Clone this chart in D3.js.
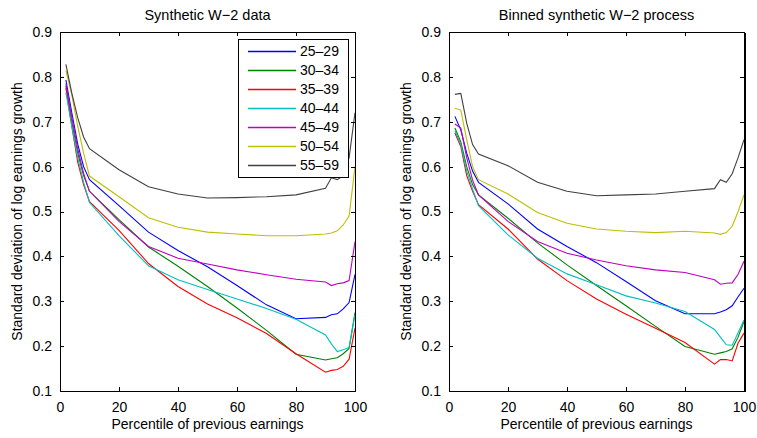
<!DOCTYPE html>
<meta charset="utf-8">
<style>
    body {
        margin: 0;
        background: #fff;
        font-family: "Liberation Sans", Arial, sans-serif;
    }
    .axis path, .axis line {
        fill: none;
        stroke: #000;
        shape-rendering: crispEdges;
    }
    .axis text {
        font-size: 14px;
        fill: #000;
    }
    .series {
        fill: none;
        stroke-width: 1.1px;
    }
</style>
<body>
<script src="https://d3js.org/d3.v7.min.js"></script>
<script>
    // percentiles where the curves are sampled
    const percentiles = [2, 4, 6, 8, 10, 20, 30, 40, 50, 60, 70, 80, 90, 92, 94, 96, 98, 100];

    const ageGroups = ["25–29", "30–34", "35–39", "40–44", "45–49", "50–54", "55–59"];
    const groupColors = ["#0000ff", "#008000", "#ff0000", "#00bfbf", "#bf00bf", "#bfbf00", "#404040"];

    // left panel: synthetic W-2 data
    const w2Data = [
        [0.793, 0.72, 0.65, 0.60, 0.571, 0.513, 0.454, 0.413, 0.377, 0.335, 0.292, 0.261, 0.264, 0.270, 0.272, 0.283, 0.297, 0.36],
        [0.78, 0.70, 0.63, 0.58, 0.545, 0.482, 0.421, 0.378, 0.333, 0.285, 0.235, 0.182, 0.169, 0.172, 0.174, 0.183, 0.195, 0.275],
        [0.775, 0.69, 0.61, 0.56, 0.522, 0.458, 0.384, 0.333, 0.294, 0.263, 0.228, 0.183, 0.142, 0.146, 0.148, 0.155, 0.171, 0.24],
        [0.765, 0.69, 0.62, 0.565, 0.52, 0.446, 0.379, 0.348, 0.326, 0.305, 0.284, 0.260, 0.225, 0.205, 0.188, 0.192, 0.197, 0.27],
        [0.785, 0.71, 0.64, 0.585, 0.545, 0.478, 0.422, 0.396, 0.383, 0.370, 0.359, 0.349, 0.343, 0.335, 0.339, 0.341, 0.346, 0.433],
        [0.814, 0.76, 0.69, 0.63, 0.579, 0.533, 0.486, 0.465, 0.454, 0.450, 0.446, 0.446, 0.450, 0.452, 0.457, 0.47, 0.49, 0.60],
        [0.828, 0.764, 0.709, 0.666, 0.640, 0.593, 0.555, 0.539, 0.530, 0.531, 0.533, 0.537, 0.552, 0.575, 0.571, 0.58, 0.62, 0.72]
    ];

    // right panel: binned synthetic W-2 process
    const binnedData = [
        [0.712, 0.682, 0.63, 0.59, 0.565, 0.517, 0.461, 0.422, 0.386, 0.344, 0.301, 0.272, 0.272, 0.276, 0.281, 0.290, 0.31, 0.329],
        [0.686, 0.655, 0.60, 0.56, 0.537, 0.485, 0.430, 0.381, 0.335, 0.290, 0.244, 0.199, 0.182, 0.185, 0.188, 0.194, 0.22, 0.255],
        [0.675, 0.645, 0.58, 0.545, 0.515, 0.461, 0.394, 0.346, 0.305, 0.271, 0.240, 0.208, 0.160, 0.170, 0.170, 0.167, 0.207, 0.229],
        [0.680, 0.650, 0.59, 0.55, 0.513, 0.448, 0.396, 0.361, 0.337, 0.312, 0.296, 0.277, 0.237, 0.22, 0.203, 0.202, 0.23, 0.258],
        [0.695, 0.686, 0.62, 0.57, 0.537, 0.478, 0.433, 0.407, 0.392, 0.379, 0.370, 0.364, 0.348, 0.338, 0.340, 0.341, 0.36, 0.389],
        [0.730, 0.726, 0.66, 0.60, 0.571, 0.539, 0.498, 0.474, 0.461, 0.456, 0.453, 0.456, 0.452, 0.449, 0.453, 0.467, 0.50, 0.537],
        [0.761, 0.763, 0.697, 0.649, 0.628, 0.602, 0.565, 0.545, 0.535, 0.537, 0.539, 0.545, 0.551, 0.571, 0.565, 0.584, 0.62, 0.66]
    ];

    const xTicks = [0, 20, 40, 60, 80, 100];
    const yTicks = [0.1, 0.2, 0.3, 0.4, 0.5, 0.6, 0.7, 0.8, 0.9];

    const panels = [
        {title: "Synthetic W−2 data", data: w2Data, left: 60, legend: true, rightEdge: 1},
        {title: "Binned synthetic W−2 process", data: binnedData, left: 449, legend: false, rightEdge: 2}
    ];

    const plotW = 295, plotTop = 32, plotBottom = 391;

    const svg = d3.select("body").append("svg")
        .attr("width", 757)
        .attr("height", 438);

    panels.forEach(p => {
        const x = d3.scaleLinear().domain([0, 100]).range([p.left, p.left + plotW]);
        const y = d3.scaleLinear().domain([0.1, 0.9]).range([plotBottom, plotTop]);

        const g = svg.append("g");

        // lines first, box on top
        const line = d3.line()
            .x((d, i) => x(percentiles[i]))
            .y(d => y(d));

        g.selectAll(".series")
            .data(p.data)
            .enter().append("path")
            .attr("class", "series")
            .attr("stroke", (d, i) => groupColors[i])
            .attr("d", line);

        // MATLAB style box with inward ticks on all sides
        g.append("g").attr("class", "axis")
            .attr("transform", `translate(0,${plotBottom})`)
            .call(d3.axisBottom(x).tickValues(xTicks).tickSizeInner(-4).tickSizeOuter(0).tickPadding(9))
            .call(s => s.selectAll("text").attr("dy", "0.85em"));
        g.append("g").attr("class", "axis")
            .attr("transform", `translate(0,${plotTop})`)
            .call(d3.axisTop(x).tickValues(xTicks).tickSizeInner(-4).tickSizeOuter(0))
            .call(s => s.selectAll("text").remove());
        g.append("g").attr("class", "axis")
            .attr("transform", `translate(${p.left},0)`)
            .call(d3.axisLeft(y).tickValues(yTicks).tickFormat(d3.format(".1f")).tickSizeInner(-4).tickSizeOuter(0).tickPadding(8));
        g.append("g").attr("class", "axis")
            .attr("transform", `translate(${p.left + plotW},0)`)
            .call(d3.axisRight(y).tickValues(yTicks).tickSizeInner(-4).tickSizeOuter(0))
            .call(s => s.selectAll("text").remove())
            .call(s => s.select(".domain").attr("stroke-width", p.rightEdge));

        g.append("text")
            .attr("x", p.left + plotW / 2)
            .attr("y", 20)
            .attr("text-anchor", "middle")
            .style("font-size", "14.5px")
            .text(p.title);

        g.append("text")
            .attr("x", p.left + plotW / 2)
            .attr("y", 429)
            .attr("text-anchor", "middle")
            .style("font-size", "14px")
            .text("Percentile of previous earnings");

        g.append("text")
            .attr("transform", `translate(${p.left - 38},${(plotTop + plotBottom) / 2}) rotate(-90)`)
            .attr("text-anchor", "middle")
            .style("font-size", "14px")
            .text("Standard deviation of log earnings growth");

        if (p.legend) {
            const lg = g.append("g").attr("transform", "translate(238,39)");
            lg.append("rect")
                .attr("width", 110)
                .attr("height", 138)
                .attr("fill", "#fff")
                .attr("stroke", "#000")
                .attr("shape-rendering", "crispEdges");
            const rows = lg.selectAll(".row")
                .data(ageGroups.map((name, i) => ({name, color: groupColors[i]})))
                .enter().append("g")
                .attr("transform", (d, i) => `translate(0,${12.5 + i * 19})`);
            rows.append("line")
                .attr("x1", 10).attr("x2", 58)
                .attr("stroke", d => d.color)
                .attr("stroke-width", 1.5);
            rows.append("text")
                .attr("x", 62)
                .attr("dy", "0.35em")
                .style("font-size", "14px")
                .text(d => d.name);
        }
    });
</script>
